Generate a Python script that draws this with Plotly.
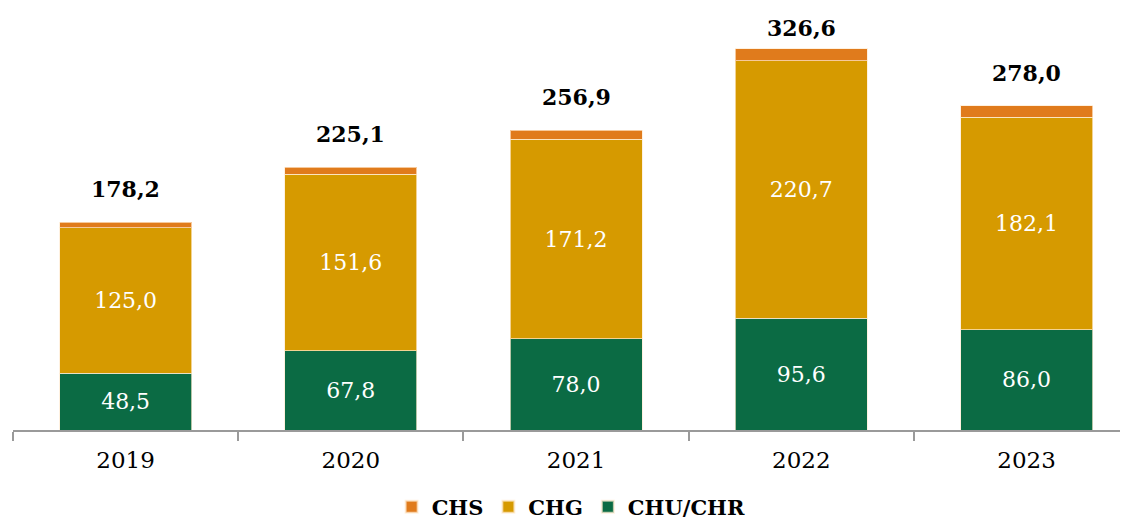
import plotly.graph_objects as go

years = ["2019", "2020", "2021", "2022", "2023"]
chu_chr = [48.5, 67.8, 78.0, 95.6, 86.0]
chg = [125.0, 151.6, 171.2, 220.7, 182.1]
chs = [4.7, 5.7, 7.7, 10.3, 9.9]
totals = [178.2, 225.1, 256.9, 326.6, 278.0]

GREEN = "#0b6b44"
GOLD = "#d69a00"
ORANGE = "#e07b1c"
FONT = "DejaVu Serif"
BORDER = dict(color="rgba(255,235,210,0.7)", width=1)

Y_MAX = 351.4
PLOT_H = 410

fig = go.Figure()
fig.add_trace(go.Bar(
    x=years, y=chu_chr, name="CHU/CHR", marker=dict(color=GREEN, line=BORDER),
    width=0.586, texttemplate="%{y:.1f}", textposition="inside",
    insidetextanchor="middle", textfont=dict(color="white", size=22, family=FONT),
    legendrank=3,
))
fig.add_trace(go.Bar(
    x=years, y=chg, name="CHG", marker=dict(color=GOLD, line=BORDER),
    width=0.586, texttemplate="%{y:.1f}", textposition="inside",
    insidetextanchor="middle", textfont=dict(color="white", size=22, family=FONT),
    legendrank=2,
))
fig.add_trace(go.Bar(
    x=years, y=chs, name="CHS", marker=dict(color=ORANGE, line=BORDER),
    width=0.586, textposition="none", legendrank=1,
))

for i, t in enumerate(totals):
    # pixel distance from plot top to bar top; keep the label inside the chart
    room = PLOT_H * (1 - t / Y_MAX)
    shift = min(18, room - 23)
    fig.add_annotation(
        x=i, y=t, xref="x", yref="y",
        text="<b>" + f"{t:.1f}".replace(".", ",") + "</b>",
        showarrow=False, yanchor="bottom", yshift=shift,
        font=dict(size=22, family=FONT, color="black"),
    )

fig.update_layout(
    width=1128, height=520,
    barmode="stack",
    separators=",.",
    paper_bgcolor="white", plot_bgcolor="white",
    margin=dict(l=5, r=0, t=12, b=98, autoexpand=False),
    font=dict(family=FONT, color="black"),
    uniformtext=dict(mode="show", minsize=10),
    showlegend=True,
    legend=dict(
        orientation="h", x=0.497, y=-0.1878, xanchor="center", yanchor="middle",
        font=dict(size=21, family=FONT, color="black", weight="bold"),
        traceorder="normal", itemwidth=30, itemsizing="constant",
    ),
    xaxis=dict(
        type="category", range=[-0.5, 4.486],
        showline=True, linecolor="#9a9a9a", linewidth=2,
        ticks="outside", tickson="boundaries", ticklen=9, tickcolor="#9a9a9a", tickwidth=2,
        tickfont=dict(size=23, family=FONT, color="black"),
        ticklabelstandoff=8, showgrid=False,
    ),
    yaxis=dict(range=[0, Y_MAX], visible=False, showgrid=False),
)

fig.write_html("out.html")
